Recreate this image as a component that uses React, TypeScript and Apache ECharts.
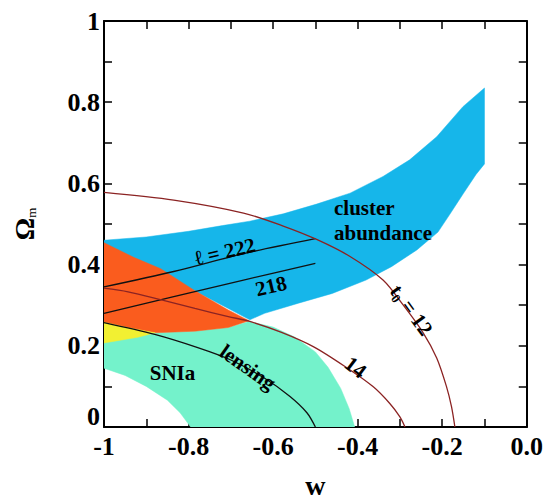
import React, { useEffect, useRef } from "react";
import * as echarts from "echarts";

// ---- data (w, Omega_m) ----
const clusterBand: [number, number][] = [
  [-1, 0.46], [-0.9, 0.468], [-0.8, 0.482], [-0.72, 0.496], [-0.655, 0.507], [-0.576, 0.525],
  [-0.497, 0.549], [-0.418, 0.576], [-0.34, 0.617], [-0.277, 0.658], [-0.213, 0.715],
  [-0.151, 0.789], [-0.1, 0.835],
  [-0.1, 0.648], [-0.12, 0.622], [-0.15, 0.575], [-0.18, 0.527], [-0.21, 0.48], [-0.26, 0.436],
  [-0.32, 0.395], [-0.38, 0.362], [-0.46, 0.329], [-0.54, 0.305], [-0.62, 0.28], [-0.655, 0.264],
  [-1, 0.452],
];
const overlapRegion: [number, number][] = [
  [-1, 0.454], [-0.93, 0.418], [-0.866, 0.39], [-0.787, 0.337], [-0.706, 0.288], [-0.657, 0.262],
  [-0.706, 0.245], [-0.785, 0.236], [-0.879, 0.232], [-0.94, 0.244], [-1, 0.258],
];
const snOverlap: [number, number][] = [
  [-1, 0.258], [-0.94, 0.244], [-0.879, 0.232], [-0.92, 0.221], [-1, 0.207],
];
const sniaBand: [number, number][] = [
  [-1, 0.258], [-0.879, 0.232], [-0.785, 0.236], [-0.706, 0.245], [-0.657, 0.26], [-0.6, 0.246],
  [-0.55, 0.222], [-0.5, 0.185], [-0.47, 0.147], [-0.44, 0.095], [-0.42, 0.045], [-0.407, 0],
  [-0.795, 0], [-0.82, 0.035], [-0.85, 0.066], [-0.9, 0.1], [-0.95, 0.127], [-1, 0.145],
];
const ell222: [number, number][] = [[-1, 0.345], [-0.835, 0.383], [-0.67, 0.427], [-0.5, 0.464]];
const ell218: [number, number][] = [[-1, 0.28], [-0.835, 0.321], [-0.67, 0.362], [-0.5, 0.403]];
const age12: [number, number][] = [
  [-1, 0.578], [-0.835, 0.559], [-0.67, 0.527], [-0.576, 0.495], [-0.497, 0.462], [-0.418, 0.42],
  [-0.34, 0.362], [-0.292, 0.3], [-0.245, 0.232], [-0.213, 0.17], [-0.19, 0.1], [-0.178, 0.05], [-0.17, 0],
];
const age14: [number, number][] = [
  [-1, 0.342], [-0.943, 0.333], [-0.864, 0.313], [-0.785, 0.292], [-0.706, 0.272], [-0.655, 0.26],
  [-0.58, 0.233], [-0.505, 0.198], [-0.43, 0.149], [-0.363, 0.099], [-0.324, 0.058], [-0.3, 0.025], [-0.288, 0],
];
const lensing: [number, number][] = [
  [-1, 0.257], [-0.88, 0.228], [-0.78, 0.196], [-0.7, 0.165], [-0.62, 0.12], [-0.56, 0.075], [-0.52, 0.035], [-0.5, 0],
];

const xTickValues = [-1, -0.8, -0.6, -0.4, -0.2, 0];
const xTickLabels = ["-1", "-0.8", "-0.6", "-0.4", "-0.2", "0.0"];
const yTickValues = [0, 0.2, 0.4, 0.6, 0.8, 1];
const yTickLabels = ["0", "0.2", "0.4", "0.6", "0.8", "1"];

const annotations = [
  { key: "cluster", text: "cluster\nabundance", w: -0.456, om: 0.509 },
  { key: "ell222", text: "ℓ = 222", w: -0.714, om: 0.432 },
  { key: "ell218", text: "218", w: -0.605, om: 0.347 },
  { key: "age12", text: "{t|t}{s|0}{t| = 12}", w: -0.273, om: 0.288 },
  { key: "age14", text: "14", w: -0.405, om: 0.147 },
  { key: "lensing", text: "lensing", w: -0.66, om: 0.147 },
  { key: "snia", text: "SNIa", w: -0.838, om: 0.133 },
];

const FONT = '"Liberation Serif", "Times New Roman", serif';
const rotations: Record<string, number> = {
  cluster: 0, ell222: 13, ell218: 13, age12: -54, age14: -37, lensing: -35, snia: 0,
};

function findLabel(v: number, vals: number[], labels: string[]) {
  for (let i = 0; i < vals.length; i++) if (Math.abs(vals[i] - v) < 1e-6) return labels[i];
  return "";
}

function polygonSeries(name: string, pts: [number, number][], color: string, z: number) {
  return {
    type: "custom",
    name,
    coordinateSystem: "cartesian2d",
    data: [pts[0]],
    clip: true,
    silent: true,
    z,
    renderItem: (_p: any, api: any) => ({
      type: "polygon",
      shape: { points: pts.map((p) => api.coord(p)) },
      style: { fill: color, stroke: color, lineWidth: 0.5 },
    }),
  };
}

function lineSeries(name: string, pts: [number, number][], color: string) {
  return {
    type: "line",
    name,
    data: pts,
    showSymbol: false,
    smooth: 0.3,
    silent: true,
    z: 5,
    lineStyle: { color, width: 1.3 },
  };
}

export default function App() {
  const ref = useRef<HTMLDivElement>(null);
  useEffect(() => {
    if (!ref.current) return;
    const chart = echarts.init(ref.current, undefined, { renderer: "svg" });
    const axisLine = { show: true, onZero: false, lineStyle: { color: "#000", width: 2 } };
    const axisTick = { show: true, inside: true, length: 8, lineStyle: { color: "#000", width: 1.5 } };
    chart.setOption({
      animation: false,
      backgroundColor: "#fff",
      grid: { left: 104, right: 19, top: 21, bottom: 77, containLabel: false },
      xAxis: [
        {
          type: "value", min: -1, max: 0, interval: 0.1, position: "bottom",
          axisLine, axisTick, splitLine: { show: false },
          axisLabel: {
            margin: 6, color: "#000", fontFamily: FONT, fontWeight: "bold", fontSize: 26,
            formatter: (v: number) => findLabel(v, xTickValues, xTickLabels),
          },
          name: "w", nameLocation: "middle", nameGap: 44,
          nameTextStyle: { color: "#000", fontFamily: FONT, fontWeight: "bold", fontSize: 28 },
        },
        {
          type: "value", min: -1, max: 0, interval: 0.1, position: "top",
          axisLine, axisTick, splitLine: { show: false }, axisLabel: { show: false },
        },
      ],
      yAxis: [
        {
          type: "value", min: 0, max: 1, interval: 0.1, position: "left",
          axisLine, axisTick, splitLine: { show: false },
          axisLabel: {
            margin: 4, color: "#000", fontFamily: FONT, fontWeight: "bold", fontSize: 26,
            formatter: (v: number) => {
              const s = findLabel(v, yTickValues, yTickLabels);
              return s === "0" ? "{z|0}" : s;
            },
            rich: {
              z: { fontFamily: FONT, fontWeight: "bold", fontSize: 26, padding: [0, 0, 22, 0] },
            },
          },
          name: "{o|Ω}{m|m}", nameLocation: "middle", nameGap: 66, nameRotate: 90,
          nameTextStyle: {
            color: "#000",
            rich: {
              o: { fontFamily: FONT, fontWeight: "bold", fontSize: 28, lineHeight: 28, verticalAlign: "middle" },
              m: { fontFamily: FONT, fontSize: 13, lineHeight: 14, verticalAlign: "bottom" },
            },
          },
        },
        {
          type: "value", min: 0, max: 1, interval: 0.1, position: "right",
          axisLine, axisTick, splitLine: { show: false }, axisLabel: { show: false },
        },
      ],
      series: [
        polygonSeries("SNIa", sniaBand, "#74f2cb", 1),
        polygonSeries("cluster abundance", clusterBand, "#16b6ea", 2),
        polygonSeries("overlap", overlapRegion, "#fa5c1e", 3),
        polygonSeries("SN overlap", snOverlap, "#f2f032", 3),
        lineSeries("l=222", ell222, "#111"),
        lineSeries("l=218", ell218, "#111"),
        lineSeries("lensing", lensing, "#111"),
        lineSeries("t0=12", age12, "#8b2323"),
        lineSeries("t0=14", age14, "#8b2323"),
        {
          type: "custom",
          name: "labels",
          coordinateSystem: "cartesian2d",
          data: annotations.map((a) => [a.w, a.om]),
          silent: true,
          z: 10,
          renderItem: (params: any, api: any) => {
            const a = annotations[params.dataIndex];
            const p = api.coord([a.w, a.om]);
            const isLeft = a.key === "cluster";
            return {
              type: "text",
              x: p[0],
              y: p[1],
              rotation: (rotations[a.key] * Math.PI) / 180,
              style: {
                text: a.text,
                fill: "#000",
                fontFamily: FONT,
                fontWeight: "bold",
                fontSize: 21,
                lineHeight: 25,
                align: isLeft ? "left" : "center",
                verticalAlign: "middle",
                rich: {
                  t: { fontFamily: FONT, fontWeight: "bold", fontSize: 21, lineHeight: 24, verticalAlign: "middle" },
                  s: { fontFamily: FONT, fontWeight: "bold", fontSize: 13, lineHeight: 14, verticalAlign: "bottom" },
                },
              },
            };
          },
        },
      ],
    });
    return () => chart.dispose();
  }, []);
  return <div ref={ref} style={{ position: "absolute", left: 0, top: 0, width: 546, height: 504 }} />;
}
